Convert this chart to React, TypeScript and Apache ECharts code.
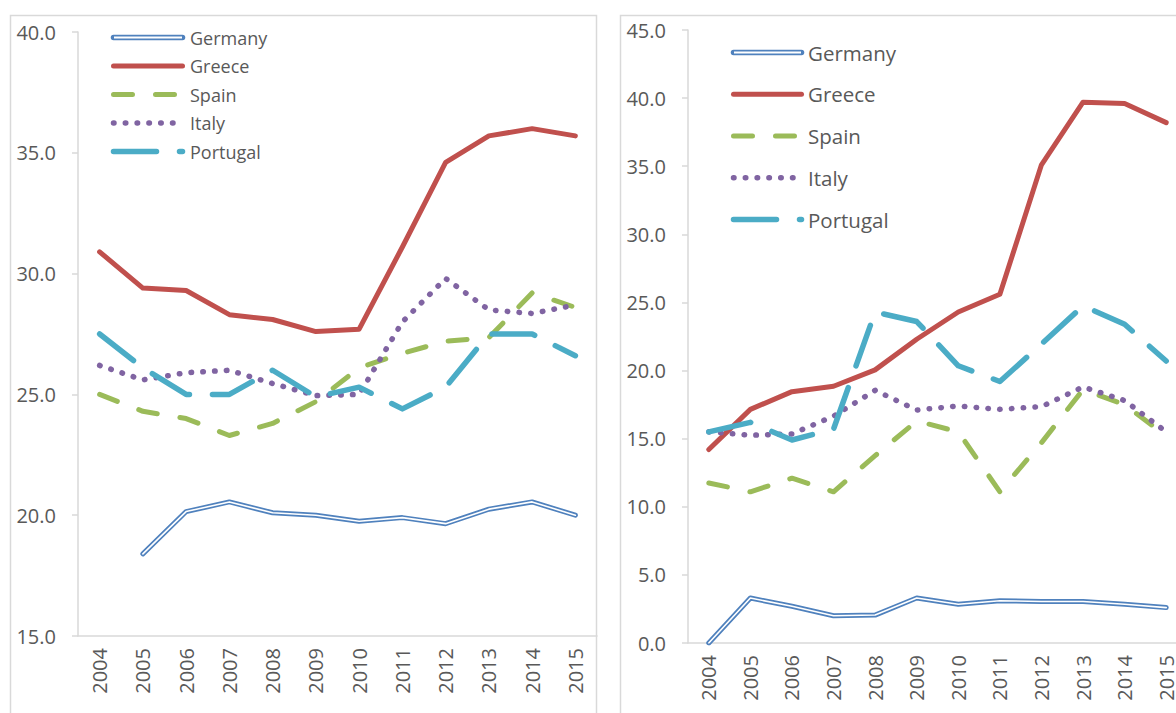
import React, { useEffect, useRef } from "react";
import * as echarts from "echarts";

const years = ["2004", "2005", "2006", "2007", "2008", "2009", "2010", "2011", "2012", "2013", "2014", "2015"];
const countries = ["Germany", "Greece", "Spain", "Italy", "Portugal"];

// Left panel
const germanyA = [null, 18.4, 20.15, 20.55, 20.1, 20.0, 19.75, 19.9, 19.65, 20.25, 20.55, 20.0];
const greeceA = [30.9, 29.4, 29.3, 28.3, 28.1, 27.6, 27.7, 31.1, 34.6, 35.7, 36.0, 35.7];
const spainA = [25.0, 24.3, 24.0, 23.3, 23.8, 24.7, 26.1, 26.7, 27.2, 27.35, 29.2, 28.6];
const italyA = [26.2, 25.6, 25.9, 26.0, 25.45, 24.95, 25.0, 28.0, 29.8, 28.5, 28.35, 28.7];
const portugalA = [27.5, 26.1, 25.0, 25.0, 26.0, 24.9, 25.3, 24.4, 25.3, 27.5, 27.5, 26.6];

// Right panel
const germanyB = [0.0, 3.3, 2.7, 2.0, 2.05, 3.3, 2.85, 3.1, 3.05, 3.05, 2.85, 2.6];
const greeceB = [14.2, 17.15, 18.45, 18.85, 20.05, 22.3, 24.3, 25.6, 35.1, 39.7, 39.6, 38.2];
const spainB = [11.75, 11.1, 12.1, 11.1, 13.75, 16.3, 15.5, 11.1, 14.7, 18.6, 17.5, 15.2];
const italyB = [15.5, 15.25, 15.35, 16.65, 18.55, 17.1, 17.4, 17.15, 17.35, 18.8, 17.8, 15.5];
const portugalB = [15.5, 16.2, 14.9, 15.7, 24.3, 23.6, 20.35, 19.2, 21.95, 24.75, 23.4, 20.7];

const leftTicks = { min: 15, max: 40, interval: 5 };
const rightTicks = { min: 0, max: 45, interval: 5 };

const FONT = "Open Sans";
const GREY = "#D9D9D9";
const TEXT = "#595959";

const styles: Record<string, any> = {
  Germany: { color: "#4F81BD", width: 5, dash: null },
  Greece: { color: "#C0504D", width: 5, dash: null },
  Spain: { color: "#9BBB59", width: 5, dash: [19, 23] },
  Italy: { color: "#8064A2", width: 5.5, dash: [0.5, 11.3] },
  Portugal: { color: "#4BACC6", width: 5.5, dash: [43, 23] },
};

function buildSeries(idx: number, data: Record<string, (number | null)[]>) {
  const out: any[] = [];
  countries.forEach((name) => {
    const s = styles[name];
    out.push({
      name,
      type: "line",
      xAxisIndex: idx,
      yAxisIndex: idx,
      data: data[name],
      symbol: "none",
      connectNulls: false,
      lineStyle: {
        color: s.color,
        width: s.width,
        type: s.dash ? s.dash : "solid",
        cap: "round",
        join: "round",
      },
      z: 2,
    });
    if (name === "Germany") {
      out.push({
        name: "Germany-inner",
        type: "line",
        xAxisIndex: idx,
        yAxisIndex: idx,
        data: data[name],
        symbol: "none",
        lineStyle: { color: "#ffffff", width: 1.6, cap: "round", join: "round" },
        z: 3,
      });
    }
  });
  return out;
}

function legendGraphics(x1: number, x2: number, textX: number, ys: number[], fontSize: number) {
  const els: any[] = [];
  countries.forEach((name, i) => {
    const s = styles[name];
    const y = ys[i];
    let lx2 = x2;
    if (name === "Italy") lx2 = x2 - 6;
    els.push({
      type: "line",
      shape: { x1, y1: y, x2: lx2, y2: y },
      style: {
        stroke: s.color,
        lineWidth: name === "Germany" ? 5.5 : s.width,
        lineDash: s.dash || null,
        lineCap: "round",
      },
      z: 100,
    });
    if (name === "Germany") {
      els.push({
        type: "line",
        shape: { x1: x1 + 0.5, y1: y, x2: x2 - 0.5, y2: y },
        style: { stroke: "#ffffff", lineWidth: 2, lineCap: "butt" },
        z: 101,
      });
    }
    els.push({
      type: "text",
      x: textX,
      y,
      style: {
        text: name,
        fill: TEXT,
        font: `${fontSize}px "${FONT}"`,
        textVerticalAlign: "middle",
        verticalAlign: "middle",
        textAlign: "left",
      },
      z: 100,
    });
  });
  return els;
}

export default function App() {
  const ref = useRef<HTMLDivElement>(null);
  useEffect(() => {
    if (!ref.current) return;
    const chart = echarts.init(ref.current, undefined, { renderer: "svg" });
    const xAxis = [0, 1].map((i) => ({
      type: "category",
      gridIndex: i,
      data: years,
      boundaryGap: true,
      axisLine: { show: true, lineStyle: { color: GREY, width: 1.5 } },
      axisTick: { show: false },
      axisLabel: { rotate: 90, color: TEXT, fontSize: 20, fontFamily: FONT, margin: 12, interval: 0 },
      splitLine: { show: false },
    }));
    const yBase = (i: number, t: any, margin: number) => ({
      type: "value",
      gridIndex: i,
      min: t.min,
      max: t.max,
      interval: t.interval,
      axisLine: { show: true, lineStyle: { color: GREY, width: 1.5 } },
      axisTick: { show: true, length: 6, lineStyle: { color: GREY, width: 1.5 } },
      axisLabel: {
        color: TEXT,
        fontSize: 20,
        fontFamily: FONT,
        margin,
        formatter: (v: number) => v.toFixed(1),
      },
      splitLine: { show: false },
    });
    const option: any = {
      animation: false,
      backgroundColor: "#ffffff",
      textStyle: { fontFamily: FONT },
      grid: [
        { left: 78, top: 32, width: 519, height: 604, outerBoundsMode: "none", containLabel: false },
        { left: 688, top: 30, width: 499, height: 613, outerBoundsMode: "none", containLabel: false },
      ],
      xAxis,
      yAxis: [yBase(0, leftTicks, 22), yBase(1, rightTicks, 22)],
      series: [
        ...buildSeries(0, { Germany: germanyA, Greece: greeceA, Spain: spainA, Italy: italyA, Portugal: portugalA }),
        ...buildSeries(1, { Germany: germanyB, Greece: greeceB, Spain: spainB, Italy: italyB, Portugal: portugalB }),
      ],
      graphic: [
        {
          type: "rect",
          shape: { x: 10.5, y: 15.5, width: 586, height: 760 },
          style: { fill: "none", stroke: GREY, lineWidth: 1.5 },
          z: 0,
          silent: true,
        },
        {
          type: "rect",
          shape: { x: 620.5, y: 15.5, width: 620, height: 760 },
          style: { fill: "none", stroke: GREY, lineWidth: 1.5 },
          z: 0,
          silent: true,
        },
        ...legendGraphics(113.5, 182.5, 190, [37.5, 66, 94.5, 123, 151.5], 18),
        ...legendGraphics(733.5, 801.5, 808, [52.5, 94.3, 136, 177.8, 219.5], 20.5),
      ],
    };
    chart.setOption(option);
    return () => chart.dispose();
  }, []);
  return (
    <div
      ref={ref}
      style={{ position: "fixed", left: 0, top: 0, width: 1176, height: 713, background: "#fff" }}
    />
  );
}
